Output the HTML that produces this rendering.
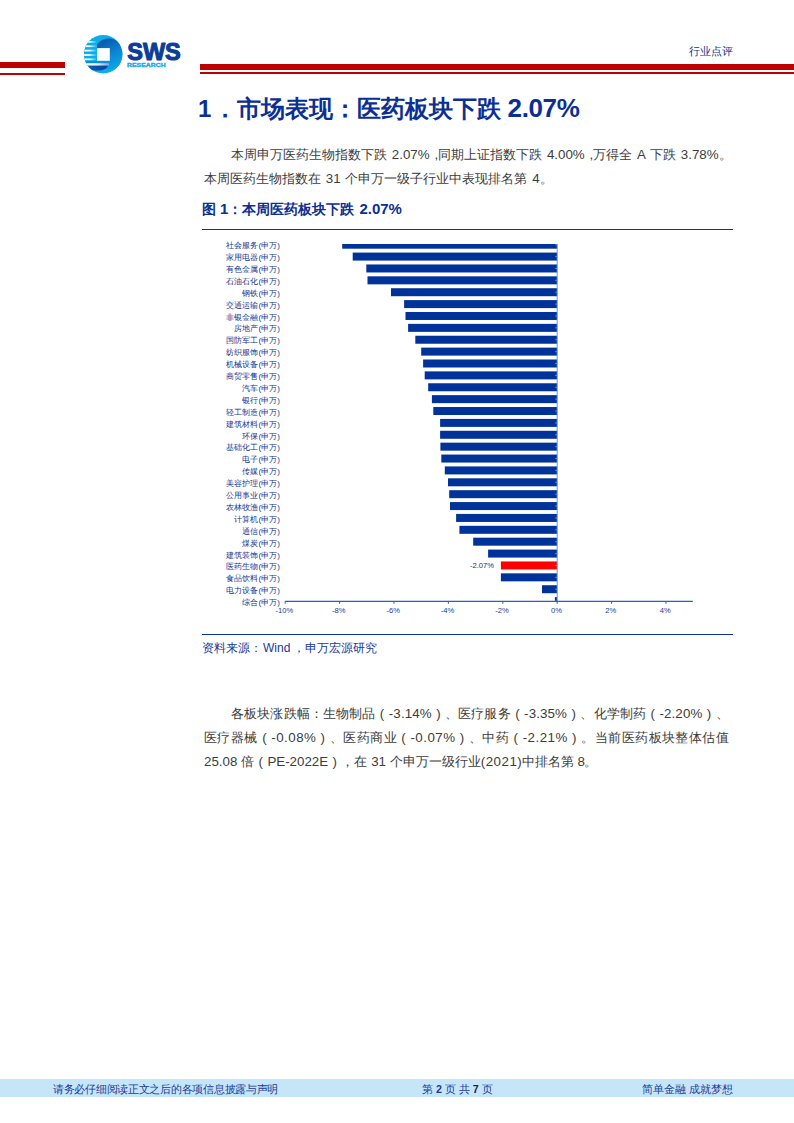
<!DOCTYPE html>
<html><head><meta charset="utf-8">
<style>
html,body{margin:0;padding:0;background:#fff;}
body{width:794px;height:1123px;position:relative;overflow:hidden;font-family:"Liberation Sans",sans-serif;}
.a{position:absolute;white-space:nowrap;}
.red{position:absolute;background:#bd0000;}
.p{color:#3c3c3c;font-size:13.33px;line-height:16px;}
.pl,.pr{display:inline-block;width:13.33px;text-align:center;}
.j{text-align:justify;text-align-last:justify;}
.ft{color:#1a3a9c;font-size:10.67px;line-height:12px;}
</style></head><body>
<!-- header red lines -->
<div class="red" style="left:0;top:62px;width:65px;height:6px"></div>
<div class="red" style="left:0;top:73px;width:65px;height:2px"></div>
<div class="red" style="left:200px;top:64px;width:594px;height:6px"></div>
<div class="red" style="left:200px;top:72px;width:594px;height:2px"></div>

<!-- logo -->
<svg class="a" style="left:80px;top:30px" width="110" height="48" viewBox="80 30 110 48">
  <defs>
    <linearGradient id="gin" x1="0.2" y1="0" x2="0.7" y2="1">
      <stop offset="0" stop-color="#0b4ea4"/>
      <stop offset="0.55" stop-color="#0a86d2"/>
      <stop offset="1" stop-color="#0aa8e8"/>
    </linearGradient>
    <linearGradient id="gbot" x1="0" y1="0" x2="1" y2="0">
      <stop offset="0" stop-color="#0a62b8"/>
      <stop offset="1" stop-color="#0a3f98"/>
    </linearGradient>
    <linearGradient id="gst" x1="0" y1="0" x2="1" y2="0">
      <stop offset="0" stop-color="#fff" stop-opacity="1"/>
      <stop offset="0.45" stop-color="#fff" stop-opacity="0.95"/>
      <stop offset="1" stop-color="#fff" stop-opacity="0"/>
    </linearGradient>
    <linearGradient id="gst2" x1="0" y1="0" x2="1" y2="0">
      <stop offset="0" stop-color="#fff" stop-opacity="1"/>
      <stop offset="0.6" stop-color="#eef" stop-opacity="0.95"/>
      <stop offset="1" stop-color="#a8b0e0" stop-opacity="0.7"/>
    </linearGradient>
    <clipPath id="cc"><circle cx="103.2" cy="54.3" r="19.2"/></clipPath>
  </defs>
  <circle cx="103.2" cy="54.3" r="19.2" fill="#0aaeea"/>
  <g clip-path="url(#cc)">
    <circle cx="109" cy="54" r="15.4" fill="url(#gin)"/>
    <path d="M86 65.5 L108 65.5 Q106 70 100 70.5 L92 70.5 Q88 68.5 86 65.5 Z" fill="url(#gbot)"/>
    <rect x="83" y="38" width="14" height="23" fill="#0aaeea"/>
    <rect x="83" y="61" width="27" height="2.2" fill="#0a8fd8"/>
    <rect x="83" y="41" width="14" height="1.8" fill="url(#gst)"/>
    <rect x="83" y="45.3" width="14" height="1.8" fill="url(#gst)"/>
    <rect x="83" y="49.7" width="14" height="1.8" fill="url(#gst)"/>
    <rect x="83" y="54.1" width="14" height="1.8" fill="url(#gst)"/>
    <rect x="83" y="58.4" width="14" height="1.8" fill="url(#gst)"/>
    <rect x="83" y="63.2" width="26" height="2.3" fill="url(#gst2)"/>
  </g>
  <rect x="97.1" y="48.1" width="12.7" height="12.7" fill="#fff"/>
  <text x="127.2" y="59.8" font-family="Liberation Sans" font-weight="bold" font-size="24" fill="#0c3e98" stroke="#0c3e98" stroke-width="1.1" stroke-linejoin="round" textLength="53.6" lengthAdjust="spacingAndGlyphs">SWS</text>
  <text x="127" y="67.3" font-family="Liberation Sans" font-weight="bold" font-size="6" fill="#14a6e6" stroke="#14a6e6" stroke-width="0.35" textLength="38.6" lengthAdjust="spacingAndGlyphs">RESEARCH</text>
</svg>

<div class="a" style="left:689px;top:43.5px;color:#15328f;font-size:10.67px;line-height:14px">行业点评</div>

<!-- title -->
<div class="a" style="left:198px;top:96px;color:#0b2f94;font-size:24px;font-weight:bold;line-height:24px"><span style="margin-right:1.5px">1</span>．市场表现：医药板块下跌 <span style="font-size:26px;letter-spacing:-0.35px">2.07%</span></div>

<!-- paragraph 1 -->
<div class="a p" style="left:231px;top:147px;word-spacing:1.1px">本周申万医药生物指数下跌 2.07% ,同期上证指数下跌 4.00% ,万得全 A 下跌 3.78%。</div>
<div class="a p" style="left:204px;top:171px;word-spacing:1.1px">本周医药生物指数在 31 个申万一级子行业中表现排名第 4。</div>

<!-- figure caption -->
<div class="a" style="left:202px;top:202px;color:#0b2f94;font-size:14px;font-weight:bold;line-height:14px">图 <span style="font-size:15px">1</span>：本周医药板块下跌<span style="font-size:15px;margin-left:1px"> 2.07%</span></div>
<div class="a" style="left:202px;top:228.75px;width:531px;height:1.5px;background:#0a3296"></div>

<!-- CHART -->
<svg class="a" style="left:0;top:0" width="794" height="1123" viewBox="0 0 794 1123">
<defs><clipPath id="pc"><rect x="280" y="244" width="420" height="357.3"/></clipPath></defs>
<g clip-path="url(#pc)">
<rect x="342.2" y="240.70" width="215.00" height="8.0" fill="#00339a"/>
<rect x="352.7" y="252.58" width="204.50" height="8.0" fill="#00339a"/>
<rect x="366.3" y="264.46" width="190.90" height="8.0" fill="#00339a"/>
<rect x="367.5" y="276.34" width="189.70" height="8.0" fill="#00339a"/>
<rect x="391.0" y="288.22" width="166.20" height="8.0" fill="#00339a"/>
<rect x="404.1" y="300.10" width="153.10" height="8.0" fill="#00339a"/>
<rect x="405.5" y="311.98" width="151.70" height="8.0" fill="#00339a"/>
<rect x="408.1" y="323.86" width="149.10" height="8.0" fill="#00339a"/>
<rect x="415.3" y="335.74" width="141.90" height="8.0" fill="#00339a"/>
<rect x="421.2" y="347.62" width="136.00" height="8.0" fill="#00339a"/>
<rect x="423.1" y="359.50" width="134.10" height="8.0" fill="#00339a"/>
<rect x="424.7" y="371.38" width="132.50" height="8.0" fill="#00339a"/>
<rect x="428.2" y="383.26" width="129.00" height="8.0" fill="#00339a"/>
<rect x="431.9" y="395.14" width="125.30" height="8.0" fill="#00339a"/>
<rect x="433.3" y="407.02" width="123.90" height="8.0" fill="#00339a"/>
<rect x="440.1" y="418.90" width="117.10" height="8.0" fill="#00339a"/>
<rect x="440.1" y="430.78" width="117.10" height="8.0" fill="#00339a"/>
<rect x="440.4" y="442.66" width="116.80" height="8.0" fill="#00339a"/>
<rect x="441.3" y="454.54" width="115.90" height="8.0" fill="#00339a"/>
<rect x="444.8" y="466.42" width="112.40" height="8.0" fill="#00339a"/>
<rect x="448.0" y="478.30" width="109.20" height="8.0" fill="#00339a"/>
<rect x="449.2" y="490.18" width="108.00" height="8.0" fill="#00339a"/>
<rect x="450.0" y="502.06" width="107.20" height="8.0" fill="#00339a"/>
<rect x="456.1" y="513.94" width="101.10" height="8.0" fill="#00339a"/>
<rect x="459.4" y="525.82" width="97.80" height="8.0" fill="#00339a"/>
<rect x="473.2" y="537.70" width="84.00" height="8.0" fill="#00339a"/>
<rect x="488.1" y="549.58" width="69.10" height="8.0" fill="#00339a"/>
<rect x="500.9" y="561.46" width="56.30" height="8.0" fill="#ff0000"/>
<rect x="500.9" y="573.34" width="56.30" height="8.0" fill="#00339a"/>
<rect x="542.0" y="585.22" width="15.20" height="8.0" fill="#00339a"/>
<rect x="554.9" y="597.10" width="2.30" height="8.0" fill="#00339a"/>
</g>
<line x1="555.0" y1="244.70" x2="557.2" y2="244.70" stroke="#6b95dc" stroke-width="0.8"/>
<line x1="555.0" y1="256.58" x2="557.2" y2="256.58" stroke="#6b95dc" stroke-width="0.8"/>
<line x1="555.0" y1="268.46" x2="557.2" y2="268.46" stroke="#6b95dc" stroke-width="0.8"/>
<line x1="555.0" y1="280.34" x2="557.2" y2="280.34" stroke="#6b95dc" stroke-width="0.8"/>
<line x1="555.0" y1="292.22" x2="557.2" y2="292.22" stroke="#6b95dc" stroke-width="0.8"/>
<line x1="555.0" y1="304.10" x2="557.2" y2="304.10" stroke="#6b95dc" stroke-width="0.8"/>
<line x1="555.0" y1="315.98" x2="557.2" y2="315.98" stroke="#6b95dc" stroke-width="0.8"/>
<line x1="555.0" y1="327.86" x2="557.2" y2="327.86" stroke="#6b95dc" stroke-width="0.8"/>
<line x1="555.0" y1="339.74" x2="557.2" y2="339.74" stroke="#6b95dc" stroke-width="0.8"/>
<line x1="555.0" y1="351.62" x2="557.2" y2="351.62" stroke="#6b95dc" stroke-width="0.8"/>
<line x1="555.0" y1="363.50" x2="557.2" y2="363.50" stroke="#6b95dc" stroke-width="0.8"/>
<line x1="555.0" y1="375.38" x2="557.2" y2="375.38" stroke="#6b95dc" stroke-width="0.8"/>
<line x1="555.0" y1="387.26" x2="557.2" y2="387.26" stroke="#6b95dc" stroke-width="0.8"/>
<line x1="555.0" y1="399.14" x2="557.2" y2="399.14" stroke="#6b95dc" stroke-width="0.8"/>
<line x1="555.0" y1="411.02" x2="557.2" y2="411.02" stroke="#6b95dc" stroke-width="0.8"/>
<line x1="555.0" y1="422.90" x2="557.2" y2="422.90" stroke="#6b95dc" stroke-width="0.8"/>
<line x1="555.0" y1="434.78" x2="557.2" y2="434.78" stroke="#6b95dc" stroke-width="0.8"/>
<line x1="555.0" y1="446.66" x2="557.2" y2="446.66" stroke="#6b95dc" stroke-width="0.8"/>
<line x1="555.0" y1="458.54" x2="557.2" y2="458.54" stroke="#6b95dc" stroke-width="0.8"/>
<line x1="555.0" y1="470.42" x2="557.2" y2="470.42" stroke="#6b95dc" stroke-width="0.8"/>
<line x1="555.0" y1="482.30" x2="557.2" y2="482.30" stroke="#6b95dc" stroke-width="0.8"/>
<line x1="555.0" y1="494.18" x2="557.2" y2="494.18" stroke="#6b95dc" stroke-width="0.8"/>
<line x1="555.0" y1="506.06" x2="557.2" y2="506.06" stroke="#6b95dc" stroke-width="0.8"/>
<line x1="555.0" y1="517.94" x2="557.2" y2="517.94" stroke="#6b95dc" stroke-width="0.8"/>
<line x1="555.0" y1="529.82" x2="557.2" y2="529.82" stroke="#6b95dc" stroke-width="0.8"/>
<line x1="555.0" y1="541.70" x2="557.2" y2="541.70" stroke="#6b95dc" stroke-width="0.8"/>
<line x1="555.0" y1="553.58" x2="557.2" y2="553.58" stroke="#6b95dc" stroke-width="0.8"/>
<line x1="555.0" y1="565.46" x2="557.2" y2="565.46" stroke="#6b95dc" stroke-width="0.8"/>
<line x1="555.0" y1="577.34" x2="557.2" y2="577.34" stroke="#6b95dc" stroke-width="0.8"/>
<line x1="555.0" y1="589.22" x2="557.2" y2="589.22" stroke="#6b95dc" stroke-width="0.8"/>
<line x1="555.0" y1="601.10" x2="557.2" y2="601.10" stroke="#6b95dc" stroke-width="0.8"/>
<line x1="557.2" y1="244" x2="557.2" y2="601.3" stroke="#6b95dc" stroke-width="1"/>
<line x1="285.2" y1="601.3" x2="692.8" y2="601.3" stroke="#2c5cc4" stroke-width="1.3"/>
<line x1="285.20" y1="601" x2="285.20" y2="603.8" stroke="#2c5cc4" stroke-width="1"/>
<text x="284.40" y="613" text-anchor="middle" font-family="Liberation Sans" font-size="7.6" fill="#1a3a9a">-10%</text>
<line x1="339.60" y1="601" x2="339.60" y2="603.8" stroke="#2c5cc4" stroke-width="1"/>
<text x="338.80" y="613" text-anchor="middle" font-family="Liberation Sans" font-size="7.6" fill="#1a3a9a">-8%</text>
<line x1="394.00" y1="601" x2="394.00" y2="603.8" stroke="#2c5cc4" stroke-width="1"/>
<text x="393.20" y="613" text-anchor="middle" font-family="Liberation Sans" font-size="7.6" fill="#1a3a9a">-6%</text>
<line x1="448.40" y1="601" x2="448.40" y2="603.8" stroke="#2c5cc4" stroke-width="1"/>
<text x="447.60" y="613" text-anchor="middle" font-family="Liberation Sans" font-size="7.6" fill="#1a3a9a">-4%</text>
<line x1="502.80" y1="601" x2="502.80" y2="603.8" stroke="#2c5cc4" stroke-width="1"/>
<text x="502.00" y="613" text-anchor="middle" font-family="Liberation Sans" font-size="7.6" fill="#1a3a9a">-2%</text>
<line x1="557.20" y1="601" x2="557.20" y2="603.8" stroke="#2c5cc4" stroke-width="1"/>
<text x="556.40" y="613" text-anchor="middle" font-family="Liberation Sans" font-size="7.6" fill="#1a3a9a">0%</text>
<line x1="611.60" y1="601" x2="611.60" y2="603.8" stroke="#2c5cc4" stroke-width="1"/>
<text x="610.80" y="613" text-anchor="middle" font-family="Liberation Sans" font-size="7.6" fill="#1a3a9a">2%</text>
<line x1="666.00" y1="601" x2="666.00" y2="603.8" stroke="#2c5cc4" stroke-width="1"/>
<text x="665.20" y="613" text-anchor="middle" font-family="Liberation Sans" font-size="7.6" fill="#1a3a9a">4%</text>
<g font-size="8" fill="#153592" text-anchor="end" font-family="Liberation Sans">
<text x="279.8" y="248.10">社会服务(申万)</text>
<text x="279.8" y="260.00">家用电器(申万)</text>
<text x="279.8" y="271.90">有色金属(申万)</text>
<text x="279.8" y="283.80">石油石化(申万)</text>
<text x="279.8" y="295.70">钢铁(申万)</text>
<text x="279.8" y="307.60">交通运输(申万)</text>
<text x="279.8" y="319.50">非银金融(申万)</text>
<text x="279.8" y="331.40">房地产(申万)</text>
<text x="279.8" y="343.30">国防军工(申万)</text>
<text x="279.8" y="355.20">纺织服饰(申万)</text>
<text x="279.8" y="367.10">机械设备(申万)</text>
<text x="279.8" y="379.00">商贸零售(申万)</text>
<text x="279.8" y="390.90">汽车(申万)</text>
<text x="279.8" y="402.80">银行(申万)</text>
<text x="279.8" y="414.70">轻工制造(申万)</text>
<text x="279.8" y="426.60">建筑材料(申万)</text>
<text x="279.8" y="438.50">环保(申万)</text>
<text x="279.8" y="450.40">基础化工(申万)</text>
<text x="279.8" y="462.30">电子(申万)</text>
<text x="279.8" y="474.20">传媒(申万)</text>
<text x="279.8" y="486.10">美容护理(申万)</text>
<text x="279.8" y="498.00">公用事业(申万)</text>
<text x="279.8" y="509.90">农林牧渔(申万)</text>
<text x="279.8" y="521.80">计算机(申万)</text>
<text x="279.8" y="533.70">通信(申万)</text>
<text x="279.8" y="545.60">煤炭(申万)</text>
<text x="279.8" y="557.50">建筑装饰(申万)</text>
<text x="279.8" y="569.40">医药生物(申万)</text>
<text x="279.8" y="581.30">食品饮料(申万)</text>
<text x="279.8" y="593.20">电力设备(申万)</text>
<text x="279.8" y="605.10">综合(申万)</text>
</g>
<text x="494" y="568.26" text-anchor="end" font-family="Liberation Sans" font-size="7.6" fill="#333">-2.07%</text>
</svg>

<div class="a" style="left:202px;top:633.5px;width:531px;height:1.5px;background:#0a3296"></div>
<div class="a" style="left:202px;top:641px;color:#1a3a9a;font-size:12px;line-height:14px">资料来源：<span style="margin-left:1px">Wind</span><span style="margin-left:2.5px">，</span>申万宏源研究</div>

<!-- paragraph 2 -->
<div class="a p" style="left:231px;top:706px;letter-spacing:0.13px">各板块涨跌幅：生物制品<span class="pl">(</span>-3.14%<span class="pr">)</span>、医疗服务<span class="pl">(</span>-3.35%<span class="pr">)</span>、化学制药<span class="pl">(</span>-2.20%<span class="pr">)</span>、</div>
<div class="a p" style="left:204px;top:730px;letter-spacing:0.48px">医疗器械<span class="pl">(</span>-0.08%<span class="pr">)</span>、医药商业<span class="pl">(</span>-0.07%<span class="pr">)</span>、中药<span class="pl">(</span>-2.21%<span class="pr">)</span>。当前医药板块整体估值</div>
<div class="a p" style="left:204px;top:754px">25.08 倍<span class="pl">(</span>PE-2022E<span class="pr">)</span>，在 31 个申万一级行业<span style="letter-spacing:0.5px">(2021)</span>中排名第<span style="margin-left:3.2px">8</span><span style="margin-left:-0.8px">。</span></div>

<!-- footer -->
<div class="a" style="left:0;top:1079px;width:794px;height:18px;background:#c5e6f8"></div>
<div class="a ft" style="left:53px;top:1083px;letter-spacing:-0.28px">请务必仔细阅读正文之后的各项信息披露与声明</div>
<div class="a ft" style="left:422px;top:1083px">第 <b>2</b> 页 共 <b style="color:#14244f">7</b> 页</div>
<div class="a ft" style="left:642px;top:1083px">简单金融 成就梦想</div>
</body></html>
